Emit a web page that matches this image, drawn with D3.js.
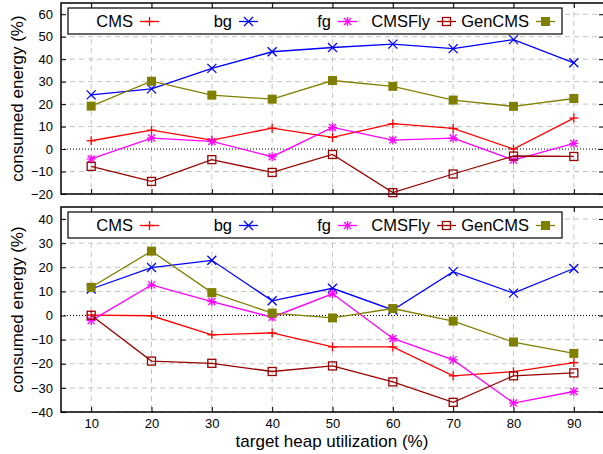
<!DOCTYPE html>
<html>
<head>
<meta charset="utf-8">
<script src="https://cdn.jsdelivr.net/npm/d3@7"></script>
<style>
  body { margin: 0; background: #fff; }
  svg { display: block; font-family: "Liberation Sans", Arial, sans-serif; }
</style>
</head>
<body>
<svg id="chart" width="603" height="454"></svg>
<script>
// x values (target heap utilization, %)
const utilization = [10, 20, 30, 40, 50, 60, 70, 80, 90];
const seriesNames = ["CMS", "bg", "fg", "CMSFly", "GenCMS"];

// top panel values
const topCMS = [3.7, 8.4, 4.0, 9.3, 5.2, 11.3, 9.2, 0.0, 13.8];
const topBg = [24.1, 26.8, 35.9, 43.3, 45.2, 46.7, 44.7, 48.7, 38.4];
const topFg = [-4.4, 4.9, 3.4, -3.4, 9.6, 4.0, 4.9, -4.9, 2.5];
const topCMSFly = [-7.7, -14.4, -4.7, -10.4, -2.4, -19.4, -11.1, -3.1, -3.3];
const topGenCMS = [19.1, 30.2, 24.0, 22.2, 30.5, 27.9, 21.8, 19.0, 22.5];

// bottom panel values
const bottomCMS = [0.2, -0.1, -8.0, -7.2, -13.0, -13.0, -25.0, -23.3, -19.5];
const bottomBg = [11.0, 19.9, 22.9, 6.1, 11.3, 2.3, 18.2, 9.3, 19.5];
const bottomFg = [-2.1, 12.7, 5.8, -0.7, 9.0, -9.5, -18.4, -36.3, -31.5];
const bottomCMSFly = [0.1, -18.9, -19.8, -23.2, -20.9, -27.5, -36.0, -25.0, -23.8];
const bottomGenCMS = [11.7, 26.7, 9.5, 1.0, -1.0, 2.9, -2.3, -11.0, -15.7];

// tick labels
const yTicksTop = [-20, -10, 0, 10, 20, 30, 40, 50, 60];
const yTicksBottom = [-40, -30, -20, -10, 0, 10, 20, 30, 40];

const colors = ["#ff0000", "#0000ff", "#ff00ff", "#990000", "#808000"];
const markers = ["plus", "cross", "star", "openSquare", "filledSquare"];

const svg = d3.select("#chart");

// shared x scale
const x = d3.scaleLinear().domain([5, 95]).range([61, 604]);

// draw a point marker of the given kind centered at (cx, cy)
function drawMarker(g, kind, cx, cy, color) {
    const s = 4.5;
    const m = g.append("g").attr("transform", `translate(${cx},${cy})`)
        .attr("stroke", color).attr("stroke-width", 1.3).attr("fill", "none");
    if (kind === "plus" || kind === "star") {
        m.append("line").attr("x1", -s).attr("x2", s).attr("y1", 0).attr("y2", 0);
        m.append("line").attr("x1", 0).attr("x2", 0).attr("y1", -s).attr("y2", s);
    }
    if (kind === "cross" || kind === "star") {
        const c = kind === "star" ? 3.5 : s;
        m.append("line").attr("x1", -c).attr("x2", c).attr("y1", -c).attr("y2", c);
        m.append("line").attr("x1", -c).attr("x2", c).attr("y1", c).attr("y2", -c);
    }
    if (kind === "openSquare") {
        m.append("rect").attr("x", -4).attr("y", -4).attr("width", 8).attr("height", 8);
    }
    if (kind === "filledSquare") {
        m.append("rect").attr("x", -4.5).attr("y", -4.5).attr("width", 9).attr("height", 9)
            .attr("fill", color).attr("stroke", "none");
    }
}

function drawPanel(opts) {
    const { y, yTicks, series, showXLabels, legendTop } = opts;
    const [yBottom, yTop] = y.range();
    const g = svg.append("g");

    // grid lines
    g.selectAll(".hgrid")
        .data(yTicks.filter(d => d !== 0))
        .enter().append("line")
        .attr("x1", x.range()[0]).attr("x2", x.range()[1])
        .attr("y1", d => y(d)).attr("y2", d => y(d))
        .attr("stroke", "#c4c4c4").attr("stroke-dasharray", "5,4");
    g.selectAll(".vgrid")
        .data(utilization)
        .enter().append("line")
        .attr("x1", d => x(d)).attr("x2", d => x(d))
        .attr("y1", yTop).attr("y2", yBottom)
        .attr("stroke", "#c4c4c4").attr("stroke-dasharray", "5,4");

    // zero line
    g.append("line")
        .attr("x1", x.range()[0]).attr("x2", x.range()[1])
        .attr("y1", y(0)).attr("y2", y(0))
        .attr("stroke", "#000").attr("stroke-width", 1).attr("stroke-dasharray", "1,2");

    // left axis
    const left = g.append("g")
        .attr("transform", `translate(${x.range()[0]},0)`)
        .call(d3.axisLeft(y).tickValues(yTicks).tickSize(-5).tickPadding(8));
    left.select(".domain").remove();
    left.selectAll("text").style("font-size", "13px").attr("fill", "#000");
    left.selectAll("line").attr("stroke", "#000");

    // right mirror ticks
    const right = g.append("g")
        .attr("transform", `translate(${x.range()[1]},0)`)
        .call(d3.axisRight(y).tickValues(yTicks).tickSize(-5).tickFormat(""));
    right.select(".domain").remove();

    // bottom axis
    const bottom = g.append("g")
        .attr("transform", `translate(0,${yBottom})`)
        .call(d3.axisBottom(x).tickValues(utilization).tickSize(-5).tickPadding(7)
            .tickFormat(showXLabels ? d3.format("d") : ""));
    bottom.select(".domain").remove();
    bottom.selectAll("text").style("font-size", "13px").attr("fill", "#000");

    // top mirror ticks
    const top = g.append("g")
        .attr("transform", `translate(0,${yTop})`)
        .call(d3.axisTop(x).tickValues(utilization).tickSize(-5).tickFormat(""));
    top.select(".domain").remove();

    // frame
    g.append("rect")
        .attr("x", x.range()[0]).attr("y", yTop)
        .attr("width", x.range()[1] - x.range()[0]).attr("height", yBottom - yTop)
        .attr("fill", "none").attr("stroke", "#000").attr("stroke-width", 1.5);

    // y axis label
    g.append("text")
        .attr("transform", `translate(23,${(yTop + yBottom) / 2}) rotate(-90)`)
        .attr("text-anchor", "middle")
        .style("font-size", "17px")
        .text("consumed energy (%)");

    // lines and markers
    const line = d3.line().x((d, i) => x(utilization[i])).y(d => y(d));
    series.forEach((values, k) => {
        g.append("path")
            .datum(values)
            .attr("fill", "none")
            .attr("stroke", colors[k])
            .attr("stroke-width", 1.3)
            .attr("d", line);
        values.forEach((v, i) => drawMarker(g, markers[k], x(utilization[i]), y(v), colors[k]));
    });

    // legend
    const legend = g.append("g");
    legend.append("rect")
        .attr("x", 68).attr("y", legendTop)
        .attr("width", 494).attr("height", 26)
        .attr("fill", "#fff").attr("stroke", "#000").attr("stroke-width", 1.2);
    seriesNames.forEach((name, k) => {
        const tx = 133 + k * 99;
        const sy = legendTop + 13.5;
        legend.append("text")
            .attr("x", tx).attr("y", legendTop + 18.5)
            .attr("text-anchor", "end")
            .style("font-size", "16.5px")
            .text(name);
        legend.append("line")
            .attr("x1", tx + 7).attr("x2", tx + 26)
            .attr("y1", sy).attr("y2", sy)
            .attr("stroke", colors[k]).attr("stroke-width", 1.3);
        drawMarker(legend, markers[k], tx + 16.5, sy, colors[k]);
    });
}

// top panel
drawPanel({
    y: d3.scaleLinear().domain([-20, 65]).range([194, 3]),
    yTicks: yTicksTop,
    series: [topCMS, topBg, topFg, topCMSFly, topGenCMS],
    showXLabels: false,
    legendTop: 8
});

// bottom panel
drawPanel({
    y: d3.scaleLinear().domain([-40, 45]).range([412, 207]),
    yTicks: yTicksBottom,
    series: [bottomCMS, bottomBg, bottomFg, bottomCMSFly, bottomGenCMS],
    showXLabels: true,
    legendTop: 212
});

// x axis title
svg.append("text")
    .attr("x", 332).attr("y", 447)
    .attr("text-anchor", "middle")
    .style("font-size", "17px")
    .text("target heap utilization (%)");
</script>
</body>
</html>
